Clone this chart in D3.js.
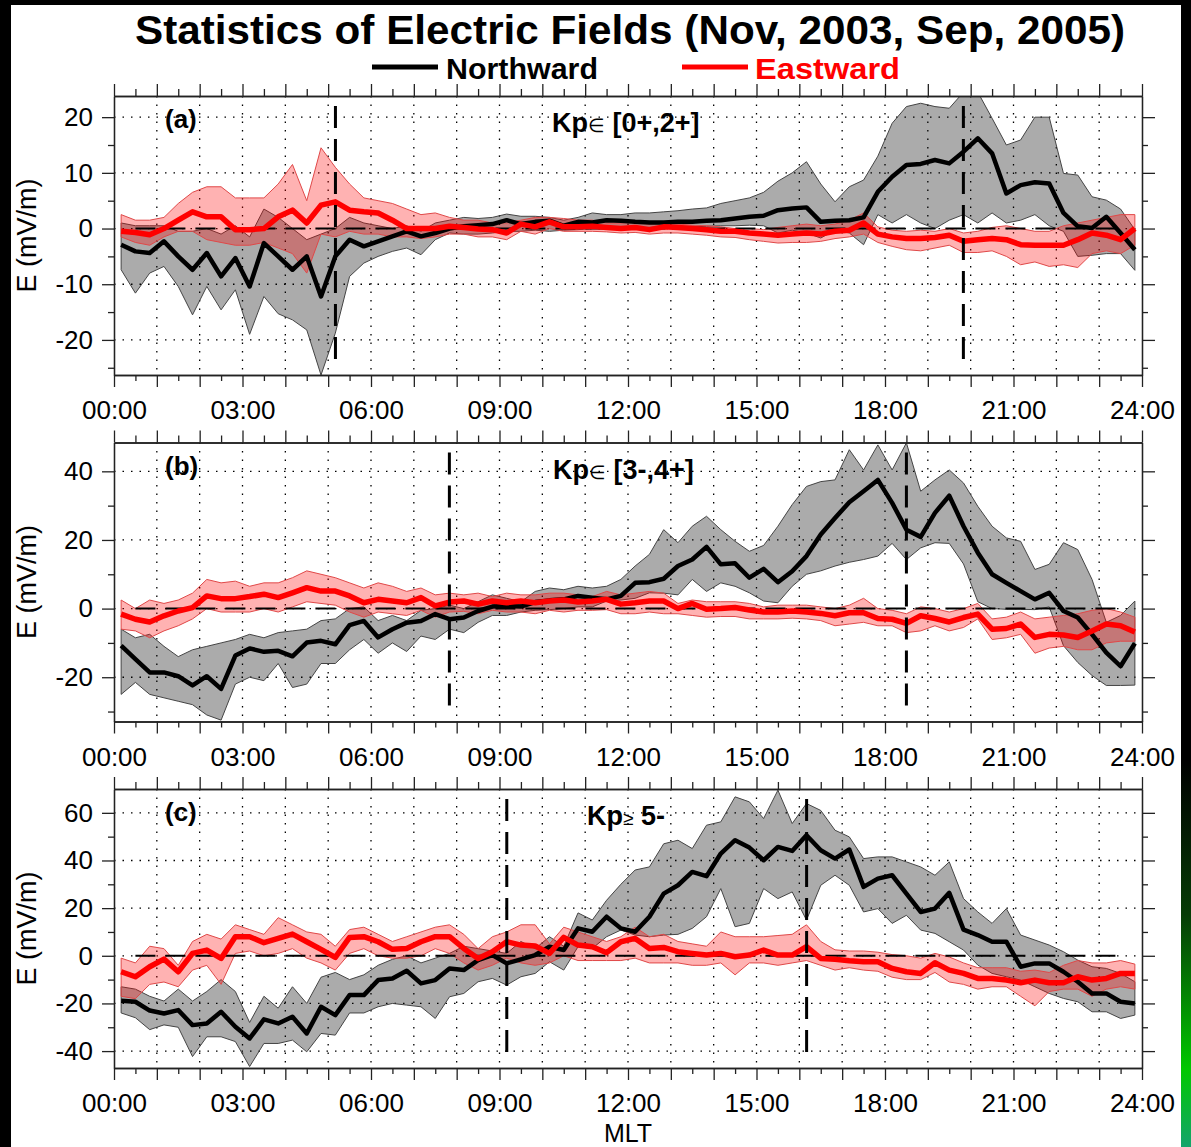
<!DOCTYPE html>
<html>
<head>
<meta charset="utf-8">
<script src="https://cdn.jsdelivr.net/npm/d3@7"></script>
<style>
  body { margin: 0; background: #000; }
  text { font-family: "Liberation Sans", Arial, Helvetica, sans-serif; }
</style>
</head>
<body>
<div id="chart"></div>
<script>
// DATA: 20-minute MLT bins (72 per day), mean and spread of the field
var mlt = d3.range(72).map(function(i) { return (i + 0.5) / 3; });
var hourLabels = ["00:00", "03:00", "06:00", "09:00", "12:00", "15:00", "18:00", "21:00", "24:00"];

// (a) Kp in [0+,2+]
var northA   = [-2.9,-4.1,-4.4,-2.3,-5.0,-7.4,-4.4,-8.6,-5.3,-10.4, -2.6,-5.0,-7.4,-5.0,-12.2,-5.0,-2.0,-3.2,-2.3,-1.4,
                -0.5,-1.4,-0.8,0.0,0.4,0.6,0.8,1.5,0.8,1.2, 1.4,0.5,1.2,1.1,1.5,1.4,1.2,1.1,1.1,1.2,
                1.2,1.4,1.5,1.8,2.1,2.3,3.3,3.6,3.8,1.2, 1.4,1.5,2.0,6.6,9.3,11.4,11.6,12.3,11.7,13.8,
                16.2,13.5,6.3,7.8,8.3,8.1,2.8,0.4,0.1,2.1, -0.8,-3.8];
var northLoA = [-7.4,-11.6,-8.0,-6.8,-10.4,-15.5,-10.4,-14.6,-11.0,-19.0, -12.2,-15.3,-16.4,-18.2,-26.3,-18.8,-8.6,-6.2,-5.0,-4.1,
                -3.5,-4.7,-2.0,-0.8,-1.0,-1.0,-0.8,-0.5,-0.5,-0.3, -0.5,-0.3,-0.2,0.0,0.3,0.3,0.2,0.2,0.3,0.3,
                0.3,0.4,0.5,0.5,0.6,0.5,-0.8,-0.3,-0.8,-1.7, -0.3,-0.8,-2.9,2.5,1.0,2.5,1.0,0.0,1.5,2.5,
                1.0,2.8,1.0,1.5,2.5,0.5,-0.5,-5.0,-4.8,-4.5, -4.5,-7.5];
var northHiA = [1.0,0.5,0.5,0.5,-0.5,-0.5,0.0,-1.0,0.5,-1.5, 3.5,2.0,0.0,-2.0,-1.0,0.0,2.0,1.0,0.5,0.0,
                0.5,-0.5,1.0,1.5,2.0,1.8,2.0,2.6,2.2,2.2, 2.0,1.5,2.0,2.8,2.5,2.5,2.8,2.8,3.0,3.2,
                3.5,3.7,4.5,5.0,5.5,6.5,8.5,10.0,12.0,8.0, 4.8,7.5,8.7,13.0,18.9,21.9,22.5,21.9,21.6,24.5,
                24.5,19.8,15.0,15.9,20.0,20.0,9.9,9.6,5.7,5.1, 3.5,-0.2];
var eastA    = [-0.5,-0.7,-1.1,0.0,1.5,3.0,2.1,2.1,-0.2,-0.2, 0.0,2.1,3.3,1.0,4.2,4.8,3.3,3.0,2.8,1.5,
                0.0,0.0,0.0,0.4,0.2,-0.1,-0.2,-0.8,0.8,0.3, 1.2,0.3,0.3,0.4,0.2,0.0,0.2,-0.2,0.3,0.2,
                0.0,-0.2,-0.5,-0.5,-0.8,-1.0,-1.2,-1.0,-0.8,-1.0, -0.5,-0.3,1.0,-1.0,-1.5,-1.8,-1.8,-1.6,-1.2,-2.3,
                -2.0,-1.8,-2.0,-2.9,-3.0,-3.0,-3.0,-2.0,-0.8,-1.2, -2.0,0.0];
var eastLoA  = [-1.5,-2.5,-3.0,-1.5,-0.5,-0.5,-2.0,-2.5,-3.0,-3.0, -2.5,-3.5,-4.5,-8.0,-1.0,-1.5,-0.5,-1.0,-1.0,-1.5,
                -1.5,-1.8,-1.5,-1.0,-1.0,-1.5,-1.5,-2.0,-0.5,-1.0, 0.0,-0.5,-0.5,-0.5,-0.6,-0.8,-0.7,-1.0,-0.8,-0.8,
                -1.0,-1.2,-1.5,-1.6,-2.0,-2.3,-2.6,-2.5,-2.5,-2.3, -1.8,-1.5,-1.0,-2.5,-3.2,-3.8,-4.0,-3.5,-3.0,-4.3,
                -4.3,-4.0,-5.0,-6.5,-6.0,-6.8,-6.5,-7.0,-4.5,-4.0, -4.5,-3.0];
var eastHiA  = [2.5,1.5,1.5,2.0,4.5,6.5,7.5,7.5,5.5,5.5, 5.5,8.0,11.5,5.0,14.5,11.0,8.0,5.5,5.0,4.5,
                3.5,2.5,2.8,2.0,1.5,1.5,1.0,1.0,1.5,2.0, 2.0,1.8,1.5,1.5,1.0,1.0,1.2,0.8,1.0,0.8,
                0.6,0.5,0.3,0.0,0.0,-0.2,0.2,0.5,0.8,0.5, 0.8,1.5,2.8,0.3,-0.3,-0.5,-0.3,-0.5,0.0,-0.8,
                -0.5,0.2,0.5,0.0,-0.5,-0.5,0.5,1.0,1.5,2.0, 2.5,2.5];

// (b) Kp in [3-,4+]
var northB   = [-10.8,-14.7,-18.6,-18.6,-19.7,-22.4,-19.7,-23.4,-13.7,-11.6, -12.6,-12.3,-13.9,-9.9,-9.4,-10.4,-4.8,-3.6,-8.4,-6.0,
                -4.1,-3.6,-1.6,-3.1,-2.6,-0.7,0.6,0.8,0.6,1.9, 2.4,2.7,3.7,3.2,2.7,3.7,7.5,7.7,8.7,12.4,
                14.3,18.0,12.9,13.2,9.0,11.6,7.7,10.9,15.3,21.6, 26.4,31.0,34.2,37.5,30.8,23.0,20.9,27.9,32.9,24.0,
                16.3,10.0,7.5,5.1,2.7,4.6,-0.7,-2.6,-7.5,-12.8, -16.8,-10.1];
var northLoB = [-25,-21.5,-25,-26,-27,-28,-31,-32.5,-22,-20, -21,-16,-23,-22,-16,-16,-12,-9,-13,-10,
                -12.5,-8,-9,-6,-7,-4,-2,-2,-1,-0.5, -0.3,0,0.5,0.5,2.2,2.5,3.0,4.6,4.5,4.0,
                8.5,5.0,7.5,6.5,4.6,2.2,1.7,6.5,10.0,11.0, 12.4,13.5,14.3,15.3,19.0,14.3,17.7,19.2,19.0,13.0,
                2.0,0.0,-0.2,-0.2,-0.3,0.5,-10.8,-15.7,-19.5,-22.4, -22.4,-22.3];
var northHiB = [-6,-8.5,-7.5,-11,-14,-12,-11,-10,-9,-7.5, -8.5,-7,-6.5,-6,-3.5,-3,0,0.5,-3.5,-2,
                -3.5,-0.5,0,1,0,2,4,3,2,5, 6,5.5,6.5,6,6.5,8.5,12.4,15.8,23,19.2,
                24,26.9,23,19.6,16.7,18.4,24,30.3,35.6,37, 37.5,46.3,40.4,47.7,40.4,48.3,34.2,37.5,40.4,36.6,
                29.8,24,20.6,19.6,11.4,12.9,19.2,17.2,8.5,-4, -2,2.2];
var eastB    = [-1.6,-3.1,-3.9,-2.1,-0.7,0.3,3.7,2.9,2.9,3.5, 4.2,3.2,4.6,6.1,5.1,5.1,3.7,1.7,2.7,2.2,
                1.7,3.2,0.8,1.9,2.2,1.3,2.2,1.7,2.2,1.7, 2.2,2.5,1.9,2.2,2.7,1.3,1.7,2.2,2.2,0.0,
                1.5,-0.2,0.0,0.3,-0.4,-1.0,-1.0,-0.7,-1.0,-1.4, -2.1,-1.2,-1.2,-2.9,-3.1,-4.3,-2.1,-2.9,-3.9,-2.6,
                -1.6,-6.0,-5.8,-4.5,-8.4,-7.5,-7.7,-8.4,-6.5,-4.5, -5.0,-6.8];
var eastLoB  = [-6,-6.5,-8.5,-6.5,-5,-3,0,-1,-1,-1, 0,-1,0.5,2,1.5,1,-1,-2.5,-1,-1.5,
                -2,-0.5,-2.5,-1,-0.8,-1.5,-0.5,-1,-1,-1.5, -0.5,-1,-0.5,-0.5,-0.3,-1.5,-1.5,-1,-1.5,-1.5,
                -2,-2.5,-2.3,-2.3,-3,-3,-3,-2.8,-3,-3.5, -5,-4.5,-4,-5,-5,-7,-6.5,-5,-6.5,-5.5,
                -3,-9,-8.5,-7.5,-13,-11.5,-11,-12,-12,-10, -9.5,-9.5];
var eastHiB  = [2.5,0,2.5,1.5,2.5,4.5,8.5,7.5,8,6.5, 7.5,7.5,9,11,10,9,7.5,6,7.5,6.5,
                5,6,4,4.5,4,4.5,3.5,4.5,4,4, 4.5,4.5,4,3.5,5,4,4.5,5,4.5,1.5,
                2.5,2,2,2,1.5,0.5,1,1,1,0.5, 0,1,3,0,-0.5,-1.5,0.5,0,-1,0,
                1.5,-3,-2.5,-1,-3,-2.5,-2,-1.5,-0.5,0, -1,-2.5];

// (c) Kp >= 5-
var northC   = [-18.9,-19.3,-23.0,-24.2,-22.8,-29.1,-28.4,-23.5,-29.8,-34.7, -26.7,-28.4,-25.6,-32.6,-21.4,-24.9,-16.5,-16.5,-10.2,-9.5,
                -6.3,-11.6,-10.2,-5.3,-6.0,-1.8,0.3,-3.2,-1.5,0.3, 3.8,2.4,11.5,10.1,16.4,11.5,10.1,16.4,26.1,29.6,
                35.2,33.4,42.9,48.5,45.4,40.1,45.7,44.0,50.6,44.3, 40.8,44.6,28.9,32.4,33.8,26.1,18.4,19.8,26.4,11.0,
                8.7,5.9,5.9,-4.6,-3.2,-3.2,-6.7,-10.9,-15.8,-15.8, -19.3,-20.0];
var northLoC = [-24,-26,-31,-29,-30,-42.3,-34,-34,-36,-46.5, -36.8,-36.8,-35.4,-40.3,-32.6,-33.3,-24,-24,-21.4,-20,
                -20.7,-21.4,-26.3,-17.2,-15.8,-10.9,-9.5,-12.3,-8.8,-7.4, -2.5,-6,3.8,3.1,8,10.8,8.7,8.0,8.7,9.0,
                11.5,16.4,28.2,12.2,13.6,28.2,24.0,26.8,15.0,29.6, 33.8,29.6,18.4,19.8,13.6,17.0,10.8,9.4,5.9,2.4,
                -3.9,-7.4,-8.8,-10.2,-13.0,-15.8,-17.9,-19.3,-23.5,-23.5, -26.3,-24.9];
var northHiC = [-13,-14,-17,-19,-14,-19,-15,-10,-15,-28, -17,-22,-13,-20,-9,-7,-10,-8,-4,-1.5,
                0,-3,-1,1,4,3,2,1,6,3, 8,4,18,15,23.3,30,36,37.3,47,48.5,
                45,54.8,56.2,66.7,64.6,57.6,69.5,55.5,63.9,61, 52.7,49.9,40.8,41.5,41.5,39.4,37.3,33.8,39.4,24,
                18.4,13.6,19.8,8.7,6.6,4.5,1.7,-1.8,-4.6,-5.3, -7.4,-10.9];
var eastC    = [-6.7,-8.8,-4.6,-1.4,-6.7,1.0,2.4,-1.1,8.0,8.0, 5.5,7.3,9.1,5.9,2.7,-0.7,7.7,8.0,5.9,2.7,
                3.1,5.9,8.0,8.0,3.1,-1.1,1.7,5.9,4.5,4.1, 1.0,7.7,4.5,3.8,1.3,5.9,7.3,3.1,3.5,1.7,
                1.0,0.3,1.0,-0.4,0.3,2.4,0.3,0.3,3.8,-1.1, -1.5,-2.1,-2.5,-2.5,-5.3,-6.7,-7.4,-2.9,-6.0,-7.4,
                -9.5,-9.5,-10.2,-11.3,-10.2,-11.3,-11.3,-8.8,-10.2,-9.5, -7.4,-7.4];
var eastLoC  = [-17,-18,-12,-11,-13,-6,-4,-12,1,2, 0,1,3,-1,-3,-6,1,3,0,-1,
                -1,0,3,1,-3,-6,-4,-1,-3,-4, -3,0,-2,-2,-2,-2,-1,-3,-3,-3,
                -4,-4,-3,-8,-3,-3,-4,-3,-2,-4, -6,-5,-6,-6.5,-9,-10,-10,-7,-11,-12,
                -14,-13,-13,-17,-21,-15,-14,-14,-17,-14, -13,-14];
var eastHiC  = [-1,-3,4,3,-4,6,9,7,13,11, 9,16,13,10,9,4,11,12,9,6,
                8,10,12,13,9,3,8,10,13,13, 5,12,10,8,6,8,12,8,9,6,
                5,4,10,8,8,8,8.5,9,13,6, 2.5,2,2,1.5,0.5,0,-1,1,-0.5,-3,
                -5,-5,-5,-6.5,-6,-7,-4,-2,-3,-3, -2,-3.5];

// axis ranges, tick values and marked MLT of each panel
var domainA = [-26.3, 23.8], majorA = [-20, -10, 0, 10, 20], minorA = [-25, -15, -5, 5, 15];
var domainB = [-32.9, 48.4], majorB = [-20, 0, 20, 40], minorB = [-30, -10, 10, 30];
var domainC = [-47.1, 70.0], majorC = [-40, -20, 0, 20, 40, 60], minorC = [-30, -10, 10, 30, 50];
var marksA = [5.17, 19.83], marksB = [7.83, 18.5], marksC = [9.17, 16.17];

var panels = [
  { tag: "(a)", kp: [["Kp", 1], ["\u2208", 0], [" [0+,2+]", 1]], kpX: 552, domain: domainA, major: majorA, minor: minorA, marks: marksA,
    north: northA, northLo: northLoA, northHi: northHiA, east: eastA, eastLo: eastLoA, eastHi: eastHiA },
  { tag: "(b)", kp: [["Kp", 1], ["\u2208", 0], [" [3-,4+]", 1]], kpX: 553, domain: domainB, major: majorB, minor: minorB, marks: marksB,
    north: northB, northLo: northLoB, northHi: northHiB, east: eastB, eastLo: eastLoB, eastHi: eastHiB },
  { tag: "(c)", kp: [["Kp", 1], ["\u2265", 0], [" 5-", 1]], kpX: 587, domain: domainC, major: majorC, minor: minorC, marks: marksC,
    north: northC, northLo: northLoC, northHi: northHiC, east: eastC, eastLo: eastLoC, eastHi: eastHiC }
];

// LAYOUT
var W = 1191, H = 1147;
var left = 114, right = 1142;
var tops = [96, 442.5, 789], ph = 279;
var font = "'Liberation Sans', Arial, Helvetica, sans-serif";

var svg = d3.select("#chart").append("svg").attr("width", W).attr("height", H);

// page frame, black border with a green strip on the right
var defs = svg.append("defs");
var grad = defs.append("linearGradient").attr("id", "greenStrip").attr("x1", 0).attr("y1", 0).attr("x2", 0).attr("y2", 1);
grad.append("stop").attr("offset", "0%").attr("stop-color", "#000");
grad.append("stop").attr("offset", "40%").attr("stop-color", "#063c06");
grad.append("stop").attr("offset", "80%").attr("stop-color", "#00c800");
grad.append("stop").attr("offset", "100%").attr("stop-color", "#14a46c");
svg.append("rect").attr("width", W).attr("height", H).style("fill", "#000");
svg.append("rect").attr("x", 11).attr("y", 5).attr("width", 1170).attr("height", H - 5).style("fill", "#fff");
svg.append("rect").attr("x", 1181).attr("y", 760).attr("width", 10).attr("height", H - 760).style("fill", "url(#greenStrip)");

// TITLE AND LEGEND
svg.append("text").attr("x", 630).attr("y", 44).attr("text-anchor", "middle")
   .attr("textLength", 990).attr("lengthAdjust", "spacingAndGlyphs")
   .style("font-size", "40px").style("font-weight", "bold").style("fill", "#000")
   .text("Statistics of Electric Fields (Nov, 2003, Sep, 2005)");
svg.append("line").attr("x1", 372).attr("x2", 438).attr("y1", 67).attr("y2", 67).style("stroke", "#000").style("stroke-width", 5);
svg.append("text").attr("x", 446).attr("y", 79).attr("textLength", 152).attr("lengthAdjust", "spacingAndGlyphs")
   .style("font-size", "29px").style("font-weight", "bold").style("fill", "#000").text("Northward");
svg.append("line").attr("x1", 682).attr("x2", 748).attr("y1", 67).attr("y2", 67).style("stroke", "#ff0000").style("stroke-width", 5);
svg.append("text").attr("x", 755).attr("y", 79).attr("textLength", 145).attr("lengthAdjust", "spacingAndGlyphs")
   .style("font-size", "29px").style("font-weight", "bold").style("fill", "#ff0000").text("Eastward");

var x = d3.scaleLinear().domain([0, 24]).range([left, right]);
var hours = d3.range(0, 25);
var halfHours = d3.range(0.5, 24, 1);

panels.forEach(function(p, k) {
  var top = tops[k], bottom = top + ph;
  var y = d3.scaleLinear().domain(p.domain).range([bottom, top]);
  var g = svg.append("g");

  defs.append("clipPath").attr("id", "clip" + k)
      .append("rect").attr("x", left).attr("y", top).attr("width", right - left).attr("height", ph);
  var plot = g.append("g").attr("clip-path", "url(#clip" + k + ")");

  // dotted grid
  plot.selectAll(".vgrid").data(d3.range(1, 24)).enter().append("line")
      .attr("x1", function(d) { return x(d); }).attr("x2", function(d) { return x(d); })
      .attr("y1", top).attr("y2", bottom)
      .style("stroke", "#000").style("stroke-width", 1.3).style("stroke-dasharray", "1.5,7");
  plot.selectAll(".hgrid").data(p.major).enter().append("line")
      .attr("x1", left).attr("x2", right)
      .attr("y1", function(d) { return y(d); }).attr("y2", function(d) { return y(d); })
      .style("stroke", "#000").style("stroke-width", 1.3).style("stroke-dasharray", "1.5,7");

  // spread bands
  var band = function(lo, hi) {
    return d3.area().x(function(d, i) { return x(mlt[i]); })
             .y0(function(d, i) { return y(lo[i]); })
             .y1(function(d, i) { return y(hi[i]); })(mlt);
  };
  plot.append("path").attr("d", band(p.northLo, p.northHi))
      .style("fill", "#000").style("fill-opacity", 0.33).style("stroke", "#444").style("stroke-width", 1);
  plot.append("path").attr("d", band(p.eastLo, p.eastHi))
      .style("fill", "#ff0000").style("fill-opacity", 0.3).style("stroke", "#e04848").style("stroke-width", 1);

  // zero line
  plot.append("line").attr("x1", x(0.5)).attr("x2", x(23.5)).attr("y1", y(0)).attr("y2", y(0))
      .style("stroke", "#000").style("stroke-width", 2).style("stroke-dasharray", "20,10");

  // mean lines
  var meanLine = function(vals) {
    return d3.line().x(function(d, i) { return x(mlt[i]); }).y(function(d) { return y(d); })(vals);
  };
  plot.append("path").attr("d", meanLine(p.north))
      .style("fill", "none").style("stroke", "#000").style("stroke-width", 4.5).style("stroke-linejoin", "round");
  plot.append("path").attr("d", meanLine(p.east))
      .style("fill", "none").style("stroke", "#ff0000").style("stroke-width", 5.5).style("stroke-linejoin", "round");

  // marked MLT
  plot.selectAll(".mark").data(p.marks).enter().append("line")
      .attr("x1", function(d) { return x(d); }).attr("x2", function(d) { return x(d); })
      .attr("y1", top + 10).attr("y2", bottom - 15)
      .style("stroke", "#000").style("stroke-width", 3).style("stroke-dasharray", "22,11");

  // AXES
  var styleAxis = function(sel) {
    sel.attr("color", "#222").attr("font-family", font).attr("font-size", 26);
    sel.selectAll("text").style("fill", "#000");
    sel.select(".domain").style("stroke-width", 1.3);
    sel.selectAll(".tick line").style("stroke-width", 1.3);
  };
  var hourFmt = function(d) { return d % 3 === 0 ? hourLabels[d / 3] : ""; };
  g.append("g").attr("transform", "translate(0," + bottom + ")")
      .call(d3.axisBottom(x).tickValues(hours).tickSize(12).tickSizeOuter(0).tickPadding(14).tickFormat(hourFmt)).call(styleAxis);
  g.append("g").attr("transform", "translate(0," + bottom + ")")
      .call(d3.axisBottom(x).tickValues(halfHours).tickSize(6).tickSizeOuter(0).tickFormat("")).call(styleAxis);
  g.append("g").attr("transform", "translate(0," + top + ")")
      .call(d3.axisTop(x).tickValues(hours).tickSize(12).tickSizeOuter(0).tickFormat("")).call(styleAxis);
  g.append("g").attr("transform", "translate(0," + top + ")")
      .call(d3.axisTop(x).tickValues(halfHours).tickSize(7).tickSizeOuter(0).tickFormat("")).call(styleAxis);
  g.append("g").attr("transform", "translate(" + left + ",0)")
      .call(d3.axisLeft(y).tickValues(p.major).tickSize(12).tickSizeOuter(0).tickPadding(9)
              .tickFormat(function(d) { return String(d); })).call(styleAxis);
  g.append("g").attr("transform", "translate(" + left + ",0)")
      .call(d3.axisLeft(y).tickValues(p.minor).tickSize(6).tickSizeOuter(0).tickFormat("")).call(styleAxis);
  g.append("g").attr("transform", "translate(" + right + ",0)")
      .call(d3.axisRight(y).tickValues(p.major).tickSize(13).tickSizeOuter(0).tickFormat("")).call(styleAxis);
  g.append("g").attr("transform", "translate(" + right + ",0)")
      .call(d3.axisRight(y).tickValues(p.minor).tickSize(6).tickSizeOuter(0).tickFormat("")).call(styleAxis);

  // LABELS
  g.append("text").attr("transform", "translate(27," + (top + ph / 2) + ") rotate(-90)")
      .attr("text-anchor", "middle").attr("dy", "0.35em")
      .style("font-size", "27px").style("fill", "#000").text("E (mV/m)");
  g.append("text").attr("x", 165).attr("y", top + 32)
      .style("font-size", "26px").style("font-weight", "bold").style("fill", "#000").text(p.tag);
  var kp = g.append("text").attr("x", p.kpX).attr("y", top + 36).style("fill", "#000");
  p.kp.forEach(function(part) {
    kp.append("tspan").style("font-size", part[1] ? "27px" : "19px")
      .style("font-weight", part[1] ? "bold" : "normal").text(part[0]);
  });
});

svg.append("text").attr("x", x(12)).attr("y", 1142).attr("text-anchor", "middle")
   .style("font-size", "25px").style("fill", "#000").text("MLT");
</script>
</body>
</html>
